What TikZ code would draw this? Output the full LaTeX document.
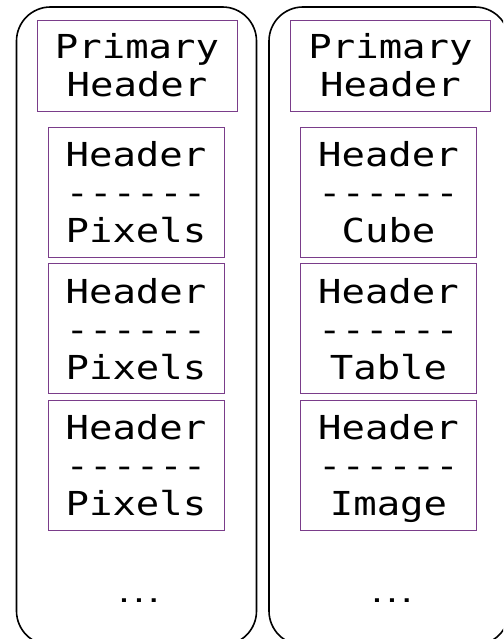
\documentclass[tikz,border=0pt]{standalone}
\usepackage{fontspec}
\newfontfamily\hdufont[FakeStretch=1.18]{DejaVu Sans Mono}
\usetikzlibrary{positioning}
\definecolor{ink}{HTML}{000000}
\definecolor{hduline}{HTML}{7A3D8A}
\tikzset{
  font=\hdufont\fontsize{33}{38}\selectfont,
  %
  fitsfile/.style={draw=ink, line width=1.6pt, rounded corners=34pt,
                   minimum width=240pt, minimum height=638pt, inner sep=0pt},
  primary/.style={draw=hduline, line width=0.9pt, align=center, text=ink,
                  minimum width=200pt, minimum height=91pt, inner sep=0pt},
  ext/.style={draw=hduline, line width=0.9pt, align=center, text=ink,
              minimum width=176pt, minimum height=130pt, inner sep=0pt,
              text depth=0pt},
  more/.style={font=\hdufont\bfseries\fontsize{21}{24}\selectfont, text=ink},
}

\begin{document}
\begin{tikzpicture}[x=1pt, y=-1pt]
\useasboundingbox (0,0) rectangle (503,639);
\clip (0,0) rectangle (503,639);

% =========================================================================
% LEFT: image extensions
% =========================================================================
\node[fitsfile] (fl) at (136.5,326) {};
\node[primary] (pl) at (137,65.5) {Primary\\Header};
\node[ext] (l1) at (136,192) {Header\\------\\Pixels};
\node[ext] (l2) at (136,328.5) {Header\\------\\Pixels};
\node[ext] (l3) at (136,465) {Header\\------\\Pixels};
\node[more] (ml) at (139,601) {...};

% =========================================================================
% RIGHT: mixed extensions
% =========================================================================
\node[fitsfile] (fr) at (389,326) {};
\node[primary] (pr) at (390.5,65.5) {Primary\\Header};
\node[ext] (r1) at (388.5,192) {Header\\------\\Cube};
\node[ext] (r2) at (388.5,328.5) {Header\\------\\Table};
\node[ext] (r3) at (388.5,465) {Header\\------\\Image};
\node[more] (mr) at (392,601) {...};

\end{tikzpicture}
\end{document}
